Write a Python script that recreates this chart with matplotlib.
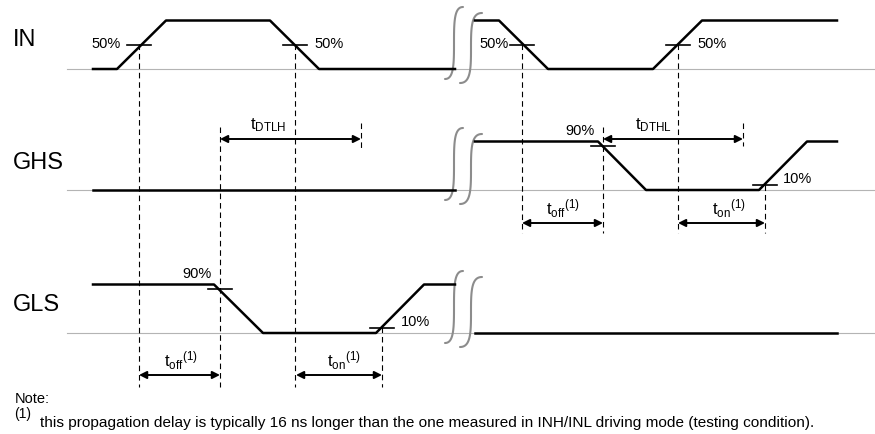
import numpy as np
import matplotlib
matplotlib.use('Agg')
import matplotlib.pyplot as plt

plt.rcParams['font.family'] = ['Liberation Sans', 'DejaVu Sans']
plt.rcParams['mathtext.fontset'] = 'custom'
plt.rcParams['mathtext.rm'] = 'Liberation Sans'

# Dados das formas de onda (tempo em unidades do desenho, nivel 0/1)
nomes = ['IN', 'GHS', 'GLS']
base_y = [69, 190, 333]          # nivel baixo de cada sinal
amp = 48.5

in_t1 = [93, 117, 166, 270, 319, 455]
in_v1 = [0, 0, 1, 1, 0, 0]
in_t2 = [475, 499, 548, 653, 702, 837]
in_v2 = [1, 1, 0, 0, 1, 1]

ghs_t1 = [93, 455]
ghs_v1 = [0, 0]
ghs_t2 = [475, 598, 646, 759, 807, 837]
ghs_v2 = [1, 1, 0, 0, 1, 1]

gls_t1 = [93, 214, 263, 376, 424, 455]
gls_v1 = [1, 1, 0, 0, 1, 1]
gls_t2 = [475, 837]
gls_v2 = [0, 0]

# limiares (tempo de cruzamento, linha, nivel, texto)
limiares_tempo = [139, 295, 522, 678, 603, 765, 220, 382]
limiares_linha = [0, 0, 0, 0, 1, 1, 2, 2]
limiares_nivel = [0.5, 0.5, 0.5, 0.5, 0.9, 0.1, 0.9, 0.1]
limiares_texto = ['50%', '50%', '50%', '50%', '90%', '10%', '90%', '10%']

# medidas: inicio, fim, y da seta, rotulo
med_ini = [220, 603, 522, 678, 139, 296]
med_fim = [361, 743, 603, 765, 220, 382]
med_y = [139, 139, 223, 223, 375, 375]
med_rot = [r'$\mathregular{t_{DTLH}}$', r'$\mathregular{t_{DTHL}}$',
           r'$\mathregular{t_{off}{}^{(1)}}$', r'$\mathregular{t_{on}{}^{(1)}}$',
           r'$\mathregular{t_{off}{}^{(1)}}$', r'$\mathregular{t_{on}{}^{(1)}}$']
med_rot_x = [268, 653, 563, 729, 181, 344]

# linhas tracejadas verticais (x, y de cima, y de baixo)
tr_x = [139, 220, 295, 361, 382, 522, 603, 678, 743, 765]
tr_y0 = [44, 127, 44, 123, 327, 44, 127, 44, 123, 185]
tr_y1 = [387, 387, 387, 148, 387, 233, 233, 233, 146, 233]


def nivel_y(linha, v):
    return base_y[linha] - amp * np.asarray(v, dtype=float)


def quebra(ax, cx, cy, w, h):
    t = np.linspace(-1, 1, 60)
    x = cx + w * t ** 3
    y = cy - h * np.sin(np.pi * t / 2)
    ax.plot(x, y, color='#8c8c8c', lw=1.5, solid_capstyle='round')


fig = plt.figure(figsize=(8.75, 4.34), dpi=100)
ax = fig.add_axes([0, 0, 1, 1])
ax.set_xlim(0, 875)
ax.set_ylim(434, 0)
ax.axis('off')

sinais = [(in_t1, in_v1, in_t2, in_v2), (ghs_t1, ghs_v1, ghs_t2, ghs_v2),
          (gls_t1, gls_v1, gls_t2, gls_v2)]
rotulo_y = [40, 163, 305]

for i, (t1, v1, t2, v2) in enumerate(sinais):
    ax.plot([67, 875], [base_y[i], base_y[i]], color='#b4b4b4', lw=0.8, zorder=1)
    ax.plot(t1, nivel_y(i, v1), color='black', lw=1.8, zorder=3)
    ax.plot(t2, nivel_y(i, v2), color='black', lw=1.8, zorder=3)
    ax.text(13, rotulo_y[i], nomes[i], fontsize=17, va='center', ha='left')
    b = base_y[i]
    quebra(ax, 454, b - 26, 9, 36)
    quebra(ax, 471, b - 21, 11, 35)

for t, l, n in zip(limiares_tempo, limiares_linha, limiares_nivel):
    y = nivel_y(l, n)
    ax.plot([t - 12, t + 12], [y, y], color='black', lw=1.2, zorder=4)

# posicoes dos textos de limiar
txt_pos = [(106, 44), (329, 44), (494, 44), (712, 44), (580, 131), (798, 179),
           (197, 274), (415, 322)]
for (x, y), txt in zip(txt_pos, limiares_texto):
    ax.text(x, y, txt, fontsize=10.5, ha='center', va='center')

for x, y0, y1 in zip(tr_x, tr_y0, tr_y1):
    ax.plot([x, x], [y0, y1], color='black', lw=0.8, ls=(0, (5, 3.5)), zorder=2)

for a, b, y, r, rx in zip(med_ini, med_fim, med_y, med_rot, med_rot_x):
    ax.annotate('', xy=(b, y), xytext=(a, y),
                arrowprops=dict(arrowstyle='<|-|>', color='black', lw=1.4,
                                mutation_scale=11, shrinkA=0, shrinkB=0))
    ax.text(rx, y - 14, r, fontsize=12, ha='center', va='center')

ax.text(15, 399, 'Note:', fontsize=10.5, ha='left', va='center')
ax.text(14, 414, '(1)', fontsize=10, ha='left', va='center')
ax.text(40, 423, 'this propagation delay is typically 16 ns longer than the one '
        'measured in INH/INL driving mode (testing condition).',
        fontsize=11.1, ha='left', va='center')

fig.savefig('out.png', dpi=100)
